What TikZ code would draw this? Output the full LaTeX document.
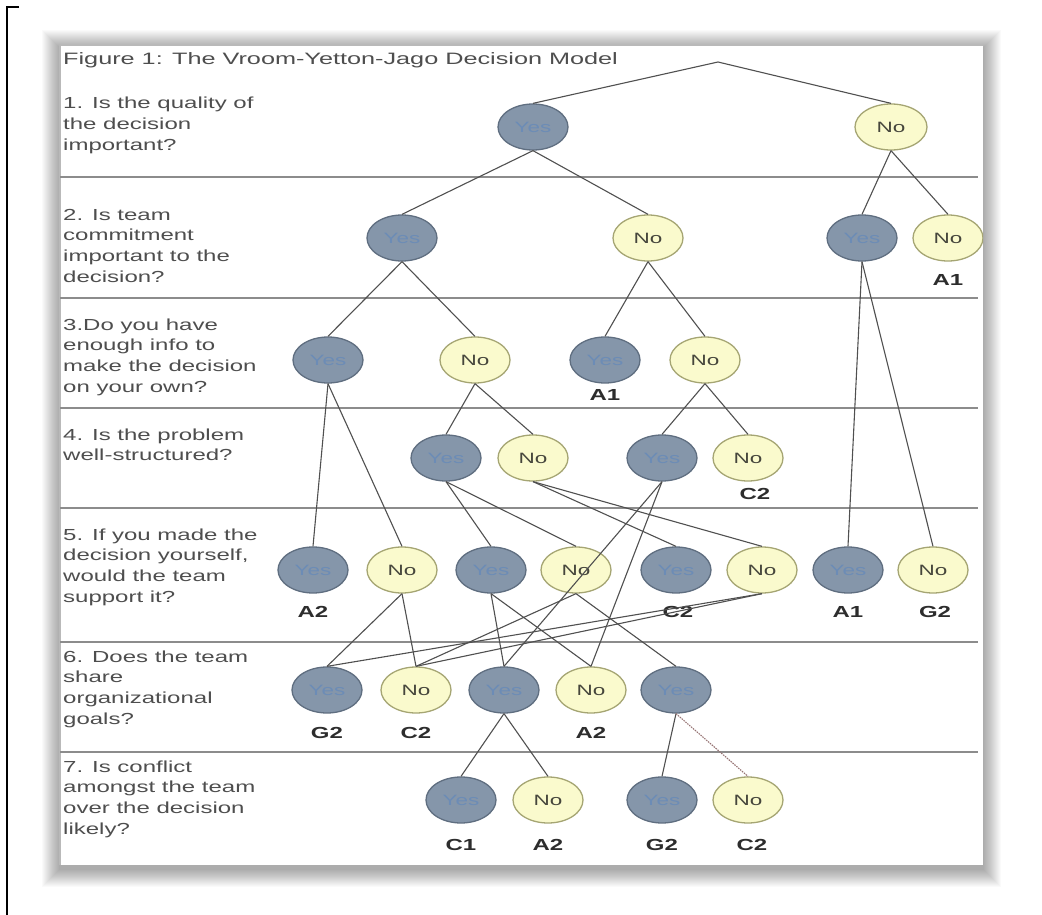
\documentclass[tikz,border=0pt]{standalone}
\usepackage{fontspec}
\setmainfont{Liberation Sans}
\usetikzlibrary{shapes.geometric}
\definecolor{yesfill}{RGB}{133,150,170}
\definecolor{yesdraw}{RGB}{95,110,128}
\definecolor{yestext}{RGB}{108,140,182}
\definecolor{nofill}{RGB}{250,250,205}
\definecolor{nodraw}{RGB}{165,165,115}
\definecolor{notext}{RGB}{70,70,60}
\definecolor{edgecol}{RGB}{80,80,80}
\definecolor{sepcol}{RGB}{140,140,140}
\definecolor{qtext}{RGB}{78,78,78}
\definecolor{labtext}{RGB}{45,45,45}
\definecolor{dotcol}{RGB}{150,115,115}
\newcommand{\hs}[1]{\scalebox{1.5}[1]{#1}}
\newcommand{\ql}[1]{\hs{\begin{tabular}[t]{@{}l@{}}#1\end{tabular}}}
\begin{document}
\begin{tikzpicture}[x=1pt,y=-1pt,
  yesnode/.style={ellipse, draw=yesdraw, fill=yesfill, line width=1.3pt, minimum width=70pt, minimum height=46pt, inner sep=0pt, text=yestext, font=\fontsize{15}{18}\selectfont},
  nonode/.style={ellipse, draw=nodraw, fill=nofill, line width=1.3pt, minimum width=70pt, minimum height=46pt, inner sep=0pt, text=notext, font=\fontsize{15}{18}\selectfont},
  lab/.style={font=\bfseries\fontsize{16}{19}\selectfont, text=labtext, inner sep=0pt},
  quest/.style={anchor=base west, inner sep=0pt, text=qtext, font=\fontsize{16}{20.7}\selectfont},
  edge/.style={draw=edgecol, line width=1.1pt},
  sep/.style={draw=sepcol, line width=1.8pt}]
\useasboundingbox (0,0) rectangle (1042,915);
\fill[white] (0,0) rectangle (1042,915);
% corner mark
\draw[black, line width=2pt] (19,7) -- (7,7) -- (7,916);
% shadow
\foreach \i in {1,...,18} {
  \fill[black, opacity=0.018] (60-\i,45-\i+3) rectangle (983+\i,865+\i+4);
}
\fill[white] (60,45) rectangle (983,865);
\draw[gray!55, line width=1.2pt] (60,865) -- (60,45) -- (983,45);
\begin{scope}
\clip (60,45) rectangle (983,865);
% separators
\foreach \yy in {177,298,408,508,642,752} {
  \draw[sep] (60,\yy) -- (978,\yy);
}
% texts
\node[quest, font=\fontsize{16.5}{20}\selectfont] (title) at (63,65) {\scalebox{1.53}[1]{Figure 1: The Vroom-Yetton-Jago Decision Model}};
\node[quest] (q1) at (63,109) {\ql{1. Is the quality of\\the decision\\important?}};
\node[quest] (q2) at (63,220) {\ql{2. Is team\\commitment\\important to the\\decision?}};
\node[quest] (q3) at (63,330) {\ql{3.Do you have\\enough info to\\make the decision\\on your own?}};
\node[quest] (q4) at (63,440) {\ql{4. Is the problem\\well-structured?}};
\node[quest] (q5) at (63,540) {\ql{5. If you made the\\decision yourself,\\would the team\\support it?}};
\node[quest] (q6) at (63,662) {\ql{6. Does the team\\share\\organizational\\goals?}};
\node[quest] (q7) at (63,772) {\ql{7. Is conflict\\amongst the team\\over the decision\\likely?}};
% nodes
\coordinate (apex) at (718,62);
\node[yesnode] (y1) at (533,127) {\hs{Yes}};
\node[nonode, minimum width=72pt] (n1) at (891,127) {\hs{No}};
\node[yesnode] (y2a) at (402,238) {\hs{Yes}};
\node[nonode] (n2a) at (648,238) {\hs{No}};
\node[yesnode] (y2b) at (862,238) {\hs{Yes}};
\node[nonode] (n2b) at (948,238) {\hs{No}};
\node[yesnode] (y3a) at (328,360) {\hs{Yes}};
\node[nonode] (n3a) at (475,360) {\hs{No}};
\node[yesnode] (y3b) at (605,360) {\hs{Yes}};
\node[nonode] (n3b) at (705,360) {\hs{No}};
\node[yesnode] (y4a) at (446,458) {\hs{Yes}};
\node[nonode] (n4b) at (533,458) {\hs{No}};
\node[yesnode] (y4c) at (662,458) {\hs{Yes}};
\node[nonode] (n4d) at (748,458) {\hs{No}};
\node[yesnode] (y5a) at (313,570) {\hs{Yes}};
\node[nonode] (n5b) at (402,570) {\hs{No}};
\node[yesnode] (y5c) at (491,570) {\hs{Yes}};
\node[nonode] (n5d) at (576,570) {\hs{No}};
\node[yesnode] (y5e) at (676,570) {\hs{Yes}};
\node[nonode] (n5f) at (762,570) {\hs{No}};
\node[yesnode] (y5g) at (848,570) {\hs{Yes}};
\node[nonode] (n5h) at (933,570) {\hs{No}};
\node[yesnode] (y6a) at (327,690) {\hs{Yes}};
\node[nonode] (n6b) at (416,690) {\hs{No}};
\node[yesnode] (y6c) at (504,690) {\hs{Yes}};
\node[nonode] (n6d) at (591,690) {\hs{No}};
\node[yesnode] (y6e) at (676,690) {\hs{Yes}};
\node[yesnode] (y7a) at (461,800) {\hs{Yes}};
\node[nonode] (n7b) at (548,800) {\hs{No}};
\node[yesnode] (y7c) at (662,800) {\hs{Yes}};
\node[nonode] (n7d) at (748,800) {\hs{No}};
% outcome labels
\node[lab] (l2) at (948,280) {\hs{A1}};
\node[lab] (l3) at (605,395) {\hs{A1}};
\node[lab] (l4) at (755,494) {\hs{C2}};
\node[lab] (l5a) at (313,612) {\hs{A2}};
\node[lab] (l5e) at (678,612) {\hs{C2}};
\node[lab] (l5g) at (848,612) {\hs{A1}};
\node[lab] (l5h) at (935,612) {\hs{G2}};
\node[lab] (l6a) at (327,733) {\hs{G2}};
\node[lab] (l6b) at (416,733) {\hs{C2}};
\node[lab] (l6d) at (591,733) {\hs{A2}};
\node[lab] (l7a) at (461,845) {\hs{C1}};
\node[lab] (l7b) at (548,845) {\hs{A2}};
\node[lab] (l7c) at (662,845) {\hs{G2}};
\node[lab] (l7d) at (752,845) {\hs{C2}};
% connectors
\draw[edge] (y1.north) -- (apex) -- (n1.north);
\foreach \a/\b in {y1/y2a, y1/n2a, n1/y2b, n1/n2b,
                   y2a/y3a, y2a/n3a, n2a/y3b, n2a/n3b, y2b/y5g, y2b/n5h,
                   y3a/y5a, y3a/n5b, n3a/y4a, n3a/n4b, n3b/y4c, n3b/n4d,
                   y4a/y5c, y4a/n5d, n4b/y5e, n4b/n5f, y4c/y6c, y4c/n6d,
                   n5b/y6a, n5b/n6b, y5c/y6c, y5c/n6d, n5d/n6b, n5d/y6e,
                   n5f/y6a, n5f/n6b, y6c/y7a, y6c/n7b, y6e/y7c} {
  \draw[edge] (\a.south) -- (\b.north);
}
\draw[edge, draw=dotcol, dash pattern=on 1.5pt off 1pt] (y6e.south) -- (n7d.north);
\end{scope}
\end{tikzpicture}
\end{document}
